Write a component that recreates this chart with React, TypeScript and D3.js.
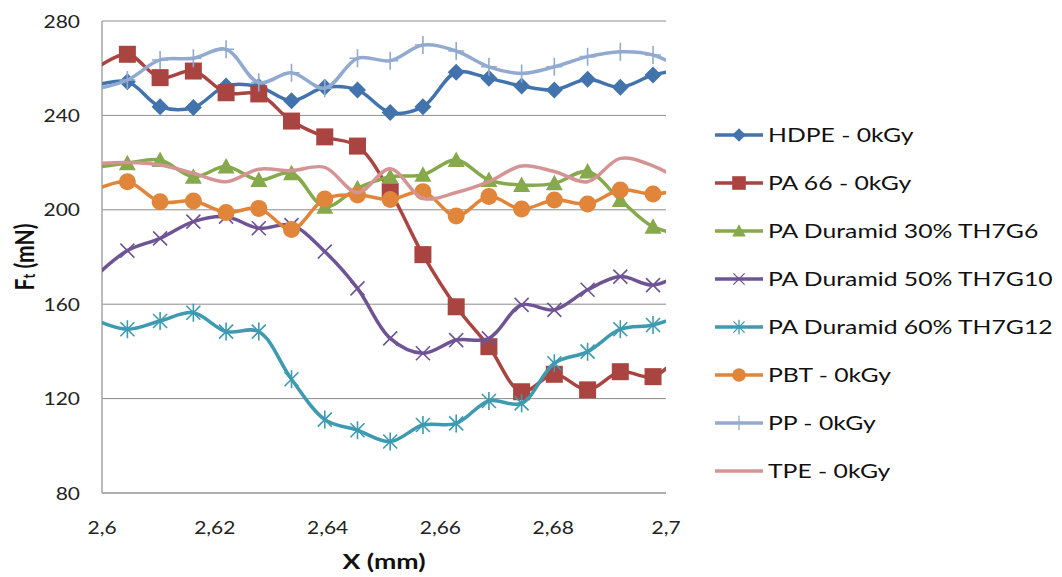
import React from "react";
import * as d3 from "d3";

// x positions of the measurement points (first and last lie just outside the axis)
const xValues = [
  2.5987, 2.6045, 2.6103, 2.6162, 2.622, 2.6278, 2.6336, 2.6395, 2.6453, 2.6511,
  2.6569, 2.6628, 2.6686, 2.6744, 2.6802, 2.6861, 2.6919, 2.6977, 2.7035,
];

const hdpe = [252.5, 254.3, 243.7, 243.3, 252.5, 252.2, 246.2, 251.9, 250.8, 241.2, 243.7, 258.3, 255.7, 252.5, 250.8, 255.3, 251.9, 257.1, 259.5];
const pa66 = [259.5, 265.9, 256, 258.8, 249.6, 249.1, 237.6, 230.9, 227, 207.7, 181, 158.9, 142, 122.9, 130.3, 123.7, 131.4, 129.3, 141];
const pa30 = [217.9, 219.7, 221.1, 214, 218.3, 212.6, 215.5, 201.3, 209.1, 214, 214.8, 221.1, 212.6, 210.5, 211.2, 216.2, 204.2, 192.8, 189.5];
const pa50 = [171.5, 182.7, 187.9, 195, 197.1, 192.2, 193.5, 182.3, 166.7, 145.5, 139.2, 144.8, 145.5, 159.7, 157.6, 166.1, 171.7, 168.1, 174];
const pa60 = [153.5, 149.4, 152.9, 156.4, 148.4, 148.4, 128.2, 111.1, 106.6, 101.8, 108.8, 109.5, 119, 118, 135, 139.9, 149.4, 151.2, 156];
const pbt = [208.3, 211.9, 203.4, 203.7, 198.9, 200.6, 191.7, 204.6, 206.3, 204.4, 207.7, 197.4, 205.6, 200.3, 204.2, 202.5, 208.4, 206.7, 209];
const pp = [251, 255, 263.5, 264.2, 268, 253.9, 258.1, 251.5, 264.2, 263.2, 269.8, 267.3, 260.6, 257.8, 260.6, 264.9, 267, 265.6, 259];
const tpe = [219.6, 220, 219, 215.5, 211.9, 217.2, 216.6, 218, 207.3, 217.4, 204.9, 207.3, 211.9, 218.6, 216.2, 211.9, 221.8, 218.6, 211];

const seriesNames = [
  "HDPE - 0kGy",
  "PA 66 - 0kGy",
  "PA Duramid 30% TH7G6",
  "PA Duramid 50% TH7G10",
  "PA Duramid 60% TH7G12",
  "PBT - 0kGy",
  "PP - 0kGy",
  "TPE - 0kGy",
];
const seriesValues = [hdpe, pa66, pa30, pa50, pa60, pbt, pp, tpe];
const seriesColors = ["#4373ac", "#aa4441", "#86a94b", "#6e5495", "#3e9ab0", "#e0853a", "#92aacf", "#d49493"];
const seriesMarkers = ["diamond", "square", "triangle", "x", "star", "circle", "plus", "none"];

const xTicks = [2.6, 2.62, 2.64, 2.66, 2.68, 2.7];
const yTicks = [80, 120, 160, 200, 240, 280];

const FONT = "Lato, 'Open Sans', sans-serif";
const STRETCH = 1.27;

function Marker({ kind, color, x, y, s = 1 }) {
  const t = `translate(${x},${y}) scale(${s})`;
  if (kind === "diamond")
    return <path transform={t} d="M0,-8.5L8.5,0L0,8.5L-8.5,0Z" fill={color} />;
  if (kind === "square")
    return <rect transform={t} x={-8.5} y={-8.5} width={17} height={17} fill={color} />;
  if (kind === "triangle")
    return <path transform={t} d="M0,-8.5L8.5,7L-8.5,7Z" fill={color} />;
  if (kind === "circle") return <circle transform={t} r={8.5} fill={color} />;
  if (kind === "x")
    return <path transform={t} d="M-7,-7L7,7M-7,7L7,-7" stroke={color} strokeWidth={1.6} fill="none" />;
  if (kind === "star")
    return <path transform={t} d="M-7,-7L7,7M-7,7L7,-7M0,-9L0,9" stroke={color} strokeWidth={1.6} fill="none" />;
  if (kind === "plus")
    return <path transform={t} d="M-8,0L8,0M0,-9L0,9" stroke={color} strokeWidth={1.6} fill="none" />;
  return null;
}

export default function App() {
  const x = d3.scaleLinear().domain([2.6, 2.7]).range([102, 666]);
  const y = d3.scaleLinear().domain([80, 280]).range([493, 21]);
  const fmt = (v) => d3.format("~g")(v).replace(".", ",");

  const lineGen = d3
    .line<number>()
    .x((_, i) => x(xValues[i]))
    .y((v) => y(v))
    .curve(d3.curveCatmullRom.alpha(0.5));

  return (
    <svg
      width={1062}
      height={577}
      style={{ position: "absolute", left: 0, top: 0, background: "#fff" }}
      fontFamily={FONT}
    >
      <defs>
        <clipPath id="plot-clip">
          <rect x={102} y={21} width={564} height={472} />
        </clipPath>
      </defs>

      {/* gridlines */}
      {yTicks.map((t) => (
        <line key={t} x1={102} x2={666} y1={y(t)} y2={y(t)} stroke="#8c8c8c" strokeWidth={1} />
      ))}
      <line x1={102} x2={666} y1={493} y2={493} stroke="#a6a6a6" strokeWidth={1.5} />
      <line x1={102} x2={102} y1={21} y2={493} stroke="#a6a6a6" strokeWidth={1.5} />

      {/* y tick labels */}
      {yTicks.map((t) => (
        <text
          key={t}
          transform={`translate(80,${y(t)}) scale(${STRETCH},1)`}
          textAnchor="end"
          dominantBaseline="central"
          fontSize={16.5}
          fill="#222"
        >
          {t}
        </text>
      ))}

      {/* x tick labels */}
      {xTicks.map((t) => (
        <text
          key={t}
          transform={`translate(${x(t)},527) scale(${STRETCH},1)`}
          textAnchor="middle"
          dominantBaseline="central"
          fontSize={16.5}
          fill="#222"
        >
          {fmt(t)}
        </text>
      ))}

      {/* axis titles */}
      <text
        transform={`translate(384,561) scale(${STRETCH},1)`}
        textAnchor="middle"
        dominantBaseline="central"
        fontSize={21}
        fontWeight="bold"
        fill="#111"
      >
        X (mm)
      </text>
      <text
        transform={`translate(23,257) rotate(-90) scale(1,${STRETCH})`}
        textAnchor="middle"
        dominantBaseline="central"
        fontSize={21}
        fontWeight="bold"
        fill="#111"
      >
        F<tspan fontSize={13} dy={4}>t</tspan>
        <tspan dy={-4}> (mN)</tspan>
      </text>

      {/* series */}
      <g clipPath="url(#plot-clip)">
        {seriesValues.map((vals, si) => (
          <g key={seriesNames[si]}>
            <path d={lineGen(vals)} fill="none" stroke={seriesColors[si]} strokeWidth={3.5} strokeLinejoin="round" />
            {vals.map((v, i) =>
              xValues[i] < 2.6 || xValues[i] > 2.7 ? null : (
                <Marker key={i} kind={seriesMarkers[si]} color={seriesColors[si]} x={x(xValues[i])} y={y(v)} />
              )
            )}
          </g>
        ))}
      </g>

      {/* legend */}
      {seriesNames.map((name, i) => {
        const ly = 135 + i * 48;
        return (
          <g key={name}>
            <line x1={715} x2={763} y1={ly} y2={ly} stroke={seriesColors[i]} strokeWidth={3.5} />
            <Marker kind={seriesMarkers[i]} color={seriesColors[i]} x={739} y={ly} s={0.8} />
            <text
              transform={`translate(768,${ly}) scale(${STRETCH},1)`}
              dominantBaseline="central"
              fontSize={19.5}
              fill="#111"
            >
              {name}
            </text>
          </g>
        );
      })}
    </svg>
  );
}
